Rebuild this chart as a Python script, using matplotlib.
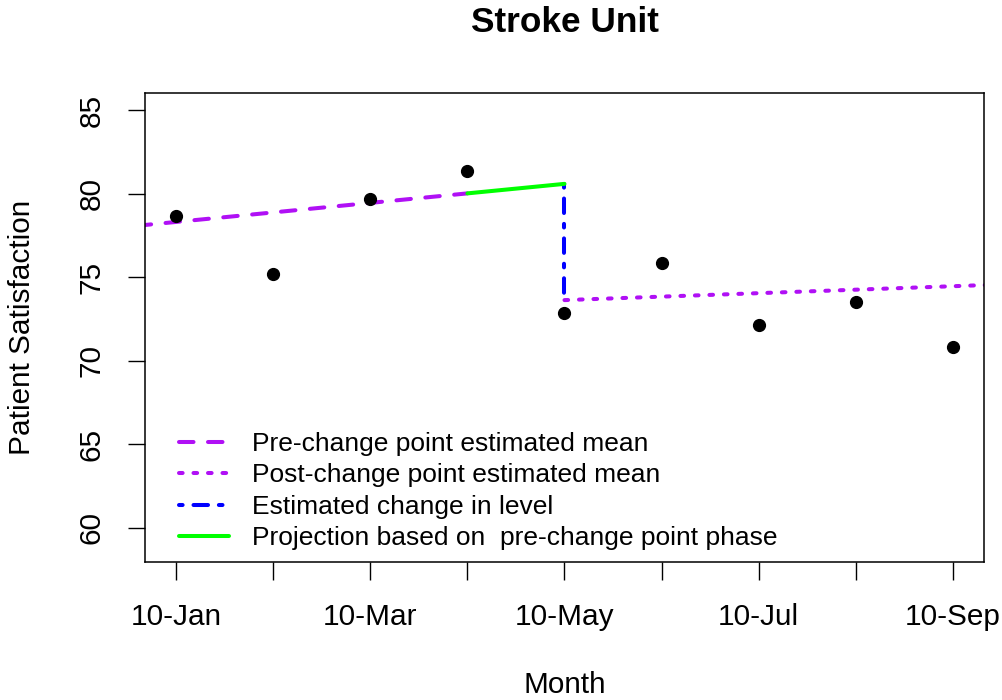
import matplotlib
matplotlib.use("Agg")
import matplotlib.pyplot as plt

plt.rcParams['font.family'] = ['Liberation Sans', 'DejaVu Sans']

# monthly observations
months = [1, 2, 3, 4, 5, 6, 7, 8, 9]
month_labels = ["10-Jan", "10-Feb", "10-Mar", "10-Apr", "10-May",
                "10-Jun", "10-Jul", "10-Aug", "10-Sep"]
satisfaction = [78.68, 75.18, 79.70, 81.37, 72.85, 75.84, 72.13, 73.54, 70.85]

# fitted segments
pre_x = [0, 4]
pre_y = [77.75, 80.03]
proj_x = [4, 5]
proj_y = [80.03, 80.60]
level_x = [5, 5]
level_y = [80.60, 73.64]
post_x = [5, 10]
post_y = [73.64, 74.68]

purple = '#B010F5'
lw = 2.9

fig = plt.figure(figsize=(10.02, 7.0), dpi=100)
ax = fig.add_axes([145 / 1002, 1 - 562 / 700, 839 / 1002, 469 / 700])

ax.plot(pre_x, pre_y, color=purple, lw=lw, linestyle=(0, (3.6, 3.6)),
        dash_capstyle='round', label='Pre-change point estimated mean')
ax.plot(post_x, post_y, color=purple, lw=lw, linestyle=(0, (0.9, 2.7)),
        dash_capstyle='round', label='Post-change point estimated mean')
ax.plot(level_x, level_y, color='#0000FF', lw=lw,
        linestyle=(0, (0.9, 2.7, 3.6, 2.7)),
        dash_capstyle='round', label='Estimated change in level')
ax.plot(proj_x, proj_y, color='#00FF00', lw=lw, solid_capstyle='round',
        label='Projection based on  pre-change point phase')
ax.plot(months, satisfaction, 'o', color='black', markersize=8.5, zorder=5)

ax.set_xlim(0.68, 9.32)
ax.set_ylim(57.96, 86.04)
ax.set_yticks([60, 65, 70, 75, 80, 85])
ax.set_xticks(months)
ax.set_xticklabels([lab if i % 2 == 0 else '' for i, lab in enumerate(month_labels)])

for s in ax.spines.values():
    s.set_linewidth(1.1)
ax.tick_params(axis='both', length=12.6, width=1.0, labelsize=21.4)
ax.tick_params(axis='x', pad=17)
ax.tick_params(axis='y', pad=16)
for t in ax.get_yticklabels():
    t.set_rotation(90)
    t.set_va('center')

ax.set_xlabel('Month', fontsize=21.4, va='center')
ax.xaxis.set_label_coords(0.5, (562 - 685) / 469)
ax.set_ylabel('Patient Satisfaction', fontsize=21.4, va='center')
ax.yaxis.set_label_coords((22 - 145) / 839, 0.5)

fig.text(564.5 / 1002, 1 - 23 / 700, 'Stroke Unit', fontsize=25.4,
         fontweight='bold', ha='center', va='center')

ax.legend(loc='upper left', bbox_to_anchor=(179.3 / 1002, 1 - 432 / 700),
          bbox_transform=fig.transFigure, frameon=False, fontsize=19,
          handlelength=1.9, handletextpad=0.86, labelspacing=0.28,
          borderpad=0, borderaxespad=0)

fig.savefig('out.png', dpi=100)
